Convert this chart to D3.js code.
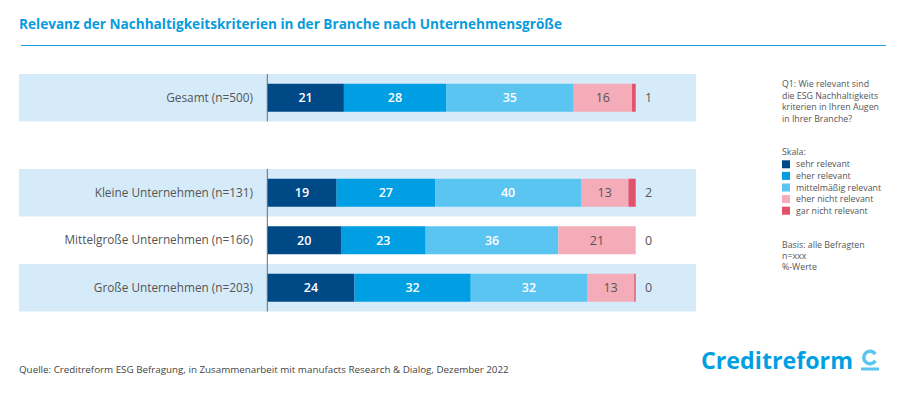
<!DOCTYPE html>
<html>
<head>
<meta charset="utf-8">
<script src="https://cdn.jsdelivr.net/npm/d3@7"></script>
<style>
    body { margin: 0; background: #fff; }
    svg { display: block; font-family: "Open Sans", sans-serif; }
</style>
</head>
<body>
<svg id="chart" width="900" height="395"></svg>
<script>
    'use strict';

    // data
    var groups = ["Gesamt (n=500)", "", "Kleine Unternehmen (n=131)", "Mittelgroße Unternehmen (n=166)", "Große Unternehmen (n=203)"];
    var shaded = ["Gesamt (n=500)", "Kleine Unternehmen (n=131)", "Große Unternehmen (n=203)"];
    var scaleKeys = ["sehr relevant", "eher relevant", "mittelmäßig relevant", "eher nicht relevant", "gar nicht relevant"];
    var sehrRelevant = [21, 19, 20, 24];
    var eherRelevant = [28, 27, 23, 32];
    var mittelRelevant = [35, 40, 36, 32];
    var eherNicht = [16, 13, 21, 13];
    var garNicht = [1, 2, 0, 0.4];
    var rowNames = ["Gesamt (n=500)", "Kleine Unternehmen (n=131)", "Mittelgroße Unternehmen (n=166)", "Große Unternehmen (n=203)"];
    var colors = ["#004987", "#009fe3", "#5bc5f2", "#f4acb8", "#e3526a"];

    var rows = rowNames.map(function(name, i) {
        return {
            name: name,
            "sehr relevant": sehrRelevant[i],
            "eher relevant": eherRelevant[i],
            "mittelmäßig relevant": mittelRelevant[i],
            "eher nicht relevant": eherNicht[i],
            "gar nicht relevant": garNicht[i]
        };
    });

    var svg = d3.select("#chart");

    // title
    svg.append("text")
        .attr("x", 19).attr("y", 29)
        .attr("textLength", 543).attr("lengthAdjust", "spacingAndGlyphs")
        .style("font-size", "14px").style("font-weight", "bold")
        .style("fill", "#0a9bdc")
        .text("Relevanz der Nachhaltigkeitskriterien in der Branche nach Unternehmensgröße");
    svg.append("line")
        .attr("x1", 21).attr("x2", 886).attr("y1", 45.5).attr("y2", 45.5)
        .style("stroke", "#1a9fe0").style("stroke-width", 1.2);

    var y = d3.scaleBand().domain(groups).range([74, 311.5]).paddingInner(0);
    var x = d3.scaleLinear().domain([0, 1]).range([267.3, 635.7]);
    var barH = 28;

    // background bands
    svg.append("g").selectAll("rect")
        .data(shaded)
        .join("rect")
        .attr("x", 19).attr("width", 677)
        .attr("y", function(d) { return y(d); })
        .attr("height", y.bandwidth())
        .style("fill", "#d5ebf9");

    // category labels
    svg.append("g").selectAll("text")
        .data(rowNames)
        .join("text")
        .attr("x", 253)
        .attr("y", function(d) { return y(d) + y.bandwidth() / 2; })
        .attr("dy", "0.35em")
        .attr("text-anchor", "end")
        .style("font-size", "11.8px")
        .style("fill", "#555")
        .text(function(d) { return d; });

    var stack = d3.stack().keys(scaleKeys).offset(d3.stackOffsetExpand);
    var series = stack(rows);

    var layer = svg.append("g").selectAll("g")
        .data(series)
        .join("g")
        .style("fill", function(d, i) { return colors[i]; });

    layer.selectAll("rect")
        .data(function(d) { return d; })
        .join("rect")
        .attr("x", function(d) { return x(d[0]); })
        .attr("width", function(d) { return Math.max(0, x(d[1]) - x(d[0])); })
        .attr("y", function(d) { return y(d.data.name) + (y.bandwidth() - barH) / 2; })
        .attr("height", barH);

    // value labels inside bars (first four segments)
    series.slice(0, 4).forEach(function(s, k) {
        svg.append("g").selectAll("text")
            .data(s)
            .join("text")
            .attr("x", function(d) { return (x(d[0]) + x(d[1])) / 2; })
            .attr("y", function(d) { return y(d.data.name) + y.bandwidth() / 2; })
            .attr("dy", "0.36em")
            .attr("text-anchor", "middle")
            .style("font-size", "12.5px")
            .style("font-weight", k < 3 ? "600" : "normal")
            .style("fill", k < 3 ? "#fff" : "#555")
            .text(function(d) { return Math.round(d.data[s.key]); });
    });

    // gar nicht relevant next to bar
    svg.append("g").selectAll("text")
        .data(rows)
        .join("text")
        .attr("x", x(1) + 13)
        .attr("y", function(d) { return y(d.name) + y.bandwidth() / 2; })
        .attr("dy", "0.36em")
        .attr("text-anchor", "middle")
        .style("font-size", "12.5px")
        .style("fill", "#555")
        .text(function(d) { return Math.round(d["gar nicht relevant"]); });

    // axis line segments
    var axisSegs = [[groups[0], groups[0]], [groups[2], groups[4]]];
    svg.append("g").selectAll("line")
        .data(axisSegs)
        .join("line")
        .attr("x1", x(0)).attr("x2", x(0))
        .attr("y1", function(d) { return y(d[0]); })
        .attr("y2", function(d) { return y(d[1]) + y.bandwidth(); })
        .style("stroke", "#6b6b6b").style("stroke-width", 1);

    // notes on the right
    var note = svg.append("g").style("font-size", "8.8px").style("fill", "#555");
    var qLines = ["Q1: Wie relevant sind", "die ESG Nachhaltigkeits", "kriterien in Ihren Augen", "in Ihrer Branche?"];
    note.selectAll("text.q")
        .data(qLines)
        .join("text")
        .attr("class", "q")
        .attr("x", 782)
        .attr("y", function(d, i) { return 87 + i * 11.6; })
        .text(function(d) { return d; });
    note.append("text").attr("x", 782).attr("y", 155).text("Skala:");

    var leg = note.selectAll("g.leg")
        .data(scaleKeys)
        .join("g")
        .attr("class", "leg")
        .attr("transform", function(d, i) { return "translate(782," + (164.3 + i * 11.6) + ")"; });
    leg.append("rect")
        .attr("x", 0).attr("y", -4).attr("width", 8).attr("height", 8)
        .style("fill", function(d, i) { return colors[i]; });
    leg.append("text")
        .attr("x", 14).attr("dy", "0.35em")
        .text(function(d) { return d; });

    var bLines = ["Basis: alle Befragten", "n=xxx", "%-Werte"];
    note.selectAll("text.b")
        .data(bLines)
        .join("text")
        .attr("class", "b")
        .attr("x", 782)
        .attr("y", function(d, i) { return 247.8 + i * 11.3; })
        .text(function(d) { return d; });

    // source
    svg.append("text")
        .attr("x", 19).attr("y", 372.5)
        .style("font-size", "9.8px").style("fill", "#444")
        .text("Quelle: Creditreform ESG Befragung, in Zusammenarbeit mit manufacts Research & Dialog, Dezember 2022");

    // logo
    svg.append("text")
        .attr("x", 701).attr("y", 369)
        .attr("textLength", 152).attr("lengthAdjust", "spacingAndGlyphs")
        .style("font-size", "23px").style("font-weight", "bold")
        .style("fill", "#009fe3")
        .text("Creditreform");
    var arc = d3.arc().innerRadius(4.5).outerRadius(8).startAngle(0.55).endAngle(Math.PI * 2 - 0.55);
    var logoC = svg.append("g").attr("transform", "translate(870,357.5) rotate(90)");
    logoC.append("path").attr("d", arc()).style("fill", "#5bc5f2");
    svg.append("rect")
        .attr("x", 861).attr("y", 367.5).attr("width", 18).attr("height", 3)
        .style("fill", "#5bc5f2");
</script>
</body>
</html>
